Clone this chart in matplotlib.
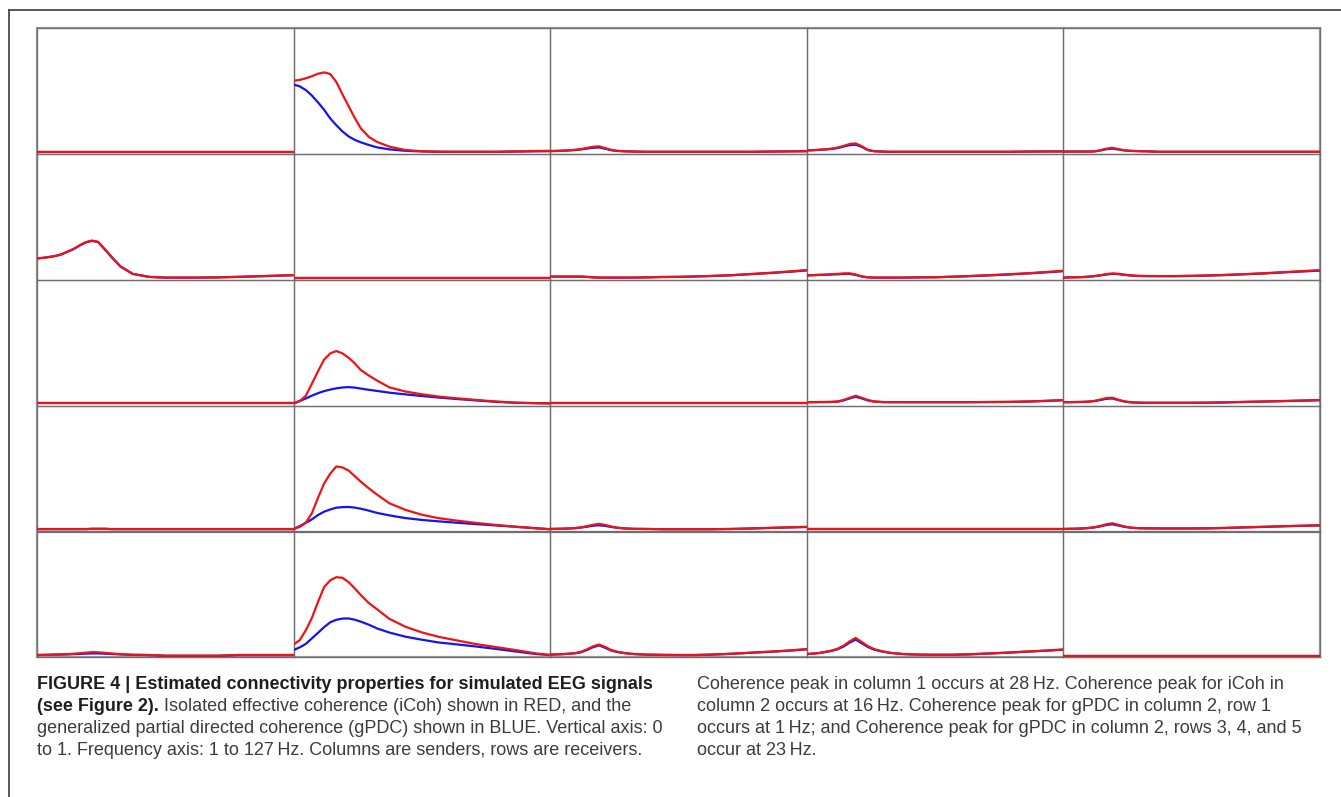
import matplotlib.pyplot as plt
from matplotlib.lines import Line2D
from matplotlib.patches import Rectangle

# frequency points (Hz) at which the curves were read
freq = [1, 4, 7, 10, 13, 16, 19, 22, 25, 28, 31, 34, 38, 42, 48, 56, 64, 72, 80, 90, 100, 110, 120, 127]
Z = [0] * 24

# iCoh (red) / gPDC (blue); each row list holds the 5 sender columns
icoh_row1 = [
    Z,
    [0.575, 0.582, 0.595, 0.612, 0.632, 0.643, 0.63, 0.565, 0.465, 0.37, 0.275, 0.19, 0.12, 0.08, 0.042, 0.014, 0.005, 0.002, 0, 0, 0, 0.004, 0.007, 0.008],
    [0.006, 0.007, 0.009, 0.012, 0.016, 0.022, 0.031, 0.041, 0.044, 0.03, 0.015, 0.008, 0.004, 0.002, 0, 0, 0, 0, 0, 0, 0, 0.002, 0.004, 0.005],
    [0.012, 0.013, 0.016, 0.02, 0.025, 0.034, 0.047, 0.063, 0.068, 0.045, 0.015, 0.005, 0.002, 0, 0, 0, 0, 0, 0, 0, 0, 0.002, 0.003, 0.003],
    [0.002, 0.002, 0.002, 0.002, 0.002, 0.003, 0.012, 0.025, 0.032, 0.022, 0.012, 0.008, 0.006, 0.004, 0, 0, 0, 0, 0, 0, 0, 0, 0, 0],
]
gpdc_row1 = [
    Z,
    [0.545, 0.53, 0.5, 0.455, 0.4, 0.34, 0.27, 0.215, 0.165, 0.125, 0.097, 0.077, 0.055, 0.036, 0.02, 0.008, 0.003, 0, 0, 0, 0, 0.002, 0.004, 0.005],
    [0.006, 0.007, 0.009, 0.011, 0.014, 0.019, 0.026, 0.033, 0.035, 0.025, 0.013, 0.007, 0.004, 0.002, 0, 0, 0, 0, 0, 0, 0, 0.002, 0.004, 0.005],
    [0.012, 0.013, 0.016, 0.019, 0.023, 0.03, 0.042, 0.054, 0.058, 0.04, 0.014, 0.005, 0.002, 0, 0, 0, 0, 0, 0, 0, 0, 0.002, 0.003, 0.003],
    [0.002, 0.002, 0.002, 0.002, 0.002, 0.003, 0.01, 0.021, 0.026, 0.019, 0.011, 0.007, 0.005, 0.004, 0, 0, 0, 0, 0, 0, 0, 0, 0, 0],
]

icoh_row2 = [
    [0.155, 0.16, 0.167, 0.175, 0.188, 0.21, 0.232, 0.262, 0.287, 0.30, 0.29, 0.235, 0.16, 0.09, 0.03, 0.006, 0, 0, 0, 0.002, 0.006, 0.011, 0.016, 0.02],
    Z,
    [0.008, 0.008, 0.008, 0.008, 0.008, 0.008, 0.006, 0.002, 0, 0, 0, 0, 0, 0, 0.002, 0.005, 0.006, 0.009, 0.013, 0.02, 0.03, 0.04, 0.052, 0.062],
    [0.018, 0.02, 0.022, 0.024, 0.027, 0.03, 0.034, 0.035, 0.025, 0.01, 0.002, 0, 0, 0, 0, 0.002, 0.003, 0.007, 0.012, 0.019, 0.027, 0.036, 0.047, 0.056],
    [0, 0.002, 0.003, 0.004, 0.007, 0.012, 0.019, 0.028, 0.034, 0.031, 0.024, 0.018, 0.014, 0.013, 0.012, 0.012, 0.014, 0.017, 0.021, 0.028, 0.036, 0.045, 0.054, 0.06],
]
gpdc_row2 = [
    [0.155, 0.16, 0.167, 0.175, 0.188, 0.21, 0.231, 0.26, 0.285, 0.297, 0.288, 0.234, 0.16, 0.09, 0.03, 0.006, 0, 0, 0, 0.002, 0.006, 0.011, 0.016, 0.02],
    Z,
    [0.008, 0.008, 0.008, 0.008, 0.008, 0.008, 0.006, 0.002, 0, 0, 0, 0, 0, 0, 0.002, 0.005, 0.006, 0.009, 0.013, 0.019, 0.028, 0.038, 0.049, 0.058],
    [0.018, 0.02, 0.022, 0.023, 0.025, 0.027, 0.029, 0.03, 0.022, 0.009, 0.002, 0, 0, 0, 0, 0.002, 0.003, 0.007, 0.011, 0.018, 0.025, 0.034, 0.044, 0.052],
    [0, 0.002, 0.003, 0.004, 0.007, 0.011, 0.017, 0.025, 0.03, 0.028, 0.022, 0.017, 0.013, 0.012, 0.012, 0.012, 0.014, 0.017, 0.021, 0.027, 0.034, 0.043, 0.051, 0.057],
]

icoh_row3 = [
    Z,
    [0, 0.018, 0.062, 0.16, 0.26, 0.355, 0.405, 0.424, 0.405, 0.37, 0.325, 0.27, 0.225, 0.185, 0.13, 0.096, 0.074, 0.056, 0.043, 0.029, 0.016, 0.005, 0.002, 0],
    Z,
    [0.01, 0.01, 0.011, 0.011, 0.012, 0.015, 0.027, 0.045, 0.062, 0.045, 0.027, 0.016, 0.011, 0.01, 0.01, 0.01, 0.01, 0.01, 0.01, 0.011, 0.012, 0.016, 0.022, 0.027],
    [0.01, 0.01, 0.011, 0.012, 0.014, 0.02, 0.03, 0.043, 0.046, 0.03, 0.016, 0.009, 0.006, 0.005, 0.005, 0.005, 0.005, 0.006, 0.008, 0.012, 0.016, 0.02, 0.024, 0.027],
]
gpdc_row3 = [
    Z,
    [0, 0.02, 0.04, 0.063, 0.083, 0.1, 0.112, 0.122, 0.129, 0.132, 0.128, 0.12, 0.11, 0.101, 0.087, 0.073, 0.06, 0.048, 0.037, 0.025, 0.013, 0.006, 0.002, 0],
    Z,
    [0.01, 0.01, 0.011, 0.011, 0.012, 0.014, 0.024, 0.04, 0.054, 0.04, 0.024, 0.015, 0.011, 0.01, 0.01, 0.01, 0.01, 0.01, 0.01, 0.011, 0.012, 0.015, 0.021, 0.026],
    [0.01, 0.01, 0.011, 0.012, 0.014, 0.018, 0.027, 0.037, 0.04, 0.027, 0.015, 0.009, 0.006, 0.005, 0.005, 0.005, 0.005, 0.006, 0.008, 0.012, 0.015, 0.019, 0.023, 0.026],
]

icoh_row4 = [
    Z,
    [0.003, 0.018, 0.052, 0.13, 0.255, 0.37, 0.45, 0.508, 0.50, 0.475, 0.43, 0.385, 0.33, 0.28, 0.21, 0.156, 0.117, 0.09, 0.072, 0.052, 0.035, 0.02, 0.007, 0],
    [0.002, 0.003, 0.004, 0.006, 0.009, 0.015, 0.024, 0.036, 0.043, 0.035, 0.022, 0.012, 0.006, 0.003, 0.002, 0, 0, 0, 0, 0.002, 0.006, 0.011, 0.016, 0.019],
    Z,
    [0.002, 0.003, 0.004, 0.006, 0.009, 0.016, 0.026, 0.04, 0.048, 0.035, 0.022, 0.013, 0.008, 0.007, 0.006, 0.006, 0.006, 0.007, 0.01, 0.015, 0.02, 0.025, 0.029, 0.032],
]
gpdc_row4 = [
    [0, 0, 0, 0, 0, 0, 0, 0, 0, 0.004, 0.004, 0.004, 0, 0, 0, 0, 0, 0, 0, 0, 0, 0, 0, 0],
    [0.002, 0.025, 0.052, 0.08, 0.115, 0.142, 0.16, 0.174, 0.179, 0.18, 0.175, 0.166, 0.15, 0.132, 0.112, 0.09, 0.075, 0.064, 0.054, 0.042, 0.031, 0.02, 0.008, 0],
    [0.002, 0.003, 0.004, 0.006, 0.008, 0.013, 0.02, 0.028, 0.032, 0.027, 0.018, 0.011, 0.006, 0.003, 0.002, 0, 0, 0, 0, 0.002, 0.006, 0.011, 0.015, 0.018],
    Z,
    [0.002, 0.003, 0.004, 0.006, 0.009, 0.014, 0.022, 0.034, 0.04, 0.03, 0.019, 0.012, 0.008, 0.007, 0.006, 0.006, 0.006, 0.007, 0.01, 0.015, 0.019, 0.024, 0.028, 0.031],
]

icoh_row5 = [
    [0, 0.001, 0.002, 0.004, 0.005, 0.007, 0.01, 0.014, 0.019, 0.023, 0.022, 0.018, 0.012, 0.007, 0.002, 0, -0.006, -0.006, -0.006, -0.006, 0, 0, 0, 0],
    [0.085, 0.12, 0.2, 0.3, 0.43, 0.55, 0.605, 0.63, 0.625, 0.59, 0.54, 0.485, 0.42, 0.37, 0.293, 0.228, 0.183, 0.148, 0.122, 0.09, 0.065, 0.04, 0.013, 0],
    [0.003, 0.005, 0.007, 0.01, 0.015, 0.025, 0.045, 0.07, 0.085, 0.065, 0.04, 0.026, 0.015, 0.008, 0.003, 0.001, 0, 0, 0.003, 0.01, 0.019, 0.028, 0.039, 0.048],
    [0.008, 0.011, 0.016, 0.025, 0.035, 0.05, 0.075, 0.11, 0.138, 0.105, 0.072, 0.048, 0.03, 0.018, 0.008, 0.003, 0.002, 0.002, 0.005, 0.012, 0.02, 0.029, 0.038, 0.045],
    [-0.008] * 24,
]
gpdc_row5 = [
    [0, 0.001, 0.002, 0.003, 0.004, 0.005, 0.007, 0.009, 0.011, 0.013, 0.013, 0.011, 0.008, 0.005, 0.001, 0, -0.006, -0.006, -0.006, -0.006, 0, 0, 0, 0],
    [0.04, 0.062, 0.09, 0.135, 0.18, 0.226, 0.265, 0.285, 0.295, 0.296, 0.286, 0.27, 0.245, 0.215, 0.182, 0.148, 0.124, 0.102, 0.088, 0.07, 0.05, 0.029, 0.008, 0],
    [0.003, 0.005, 0.007, 0.01, 0.014, 0.022, 0.04, 0.063, 0.078, 0.058, 0.036, 0.024, 0.014, 0.008, 0.003, 0.001, 0, 0, 0.003, 0.01, 0.019, 0.027, 0.037, 0.046],
    [0.008, 0.011, 0.016, 0.024, 0.033, 0.046, 0.068, 0.1, 0.125, 0.095, 0.065, 0.044, 0.028, 0.017, 0.008, 0.003, 0.002, 0.002, 0.005, 0.012, 0.019, 0.028, 0.036, 0.043],
    [-0.008] * 24,
]

icoh = [icoh_row1, icoh_row2, icoh_row3, icoh_row4, icoh_row5]
gpdc = [gpdc_row1, gpdc_row2, gpdc_row3, gpdc_row4, gpdc_row5]

caption_left = [
    "generalized partial directed coherence (gPDC) shown in BLUE. Vertical axis: 0",
    "to 1. Frequency axis: 1 to 127\u2009Hz. Columns are senders, rows are receivers.",
]
caption_right = [
    "Coherence peak in column 1 occurs at 28\u2009Hz. Coherence peak for iCoh in",
    "column 2 occurs at 16\u2009Hz. Coherence peak for gPDC in column 2, row 1",
    "occurs at 1\u2009Hz; and Coherence peak for gPDC in column 2, rows 3, 4, and 5",
    "occur at 23\u2009Hz.",
]

W, H = 1341, 797
fig = plt.figure(figsize=(W / 100, H / 100), dpi=100)
fig.patch.set_facecolor('white')

# grid geometry in pixels
x0, y0 = 37, 28.3
cw, rh = 256.6, 125.8

for r in range(5):
    for c in range(5):
        left = x0 + c * cw
        top = y0 + r * rh
        ax = fig.add_axes([left / W, 1 - (top + rh) / H, cw / W, rh / H])
        ax.set_facecolor('none')
        ax.plot(freq, gpdc[r][c], color='#1414ee', lw=1.6)
        ax.plot(freq, icoh[r][c], color='#ee1414', lw=1.6)
        ax.set_xlim(1, 127)
        ax.set_ylim(-0.0185, 1.0)
        ax.set_xticks([])
        ax.set_yticks([])
        for s in ax.spines.values():
            s.set_color('#6f6f6f')
            s.set_linewidth(0.9)
            s.set_zorder(0.5)

# outer border of the grid, kept under the curves
fig.add_artist(Rectangle((x0 / W, 1 - (y0 + 5 * rh) / H), 5 * cw / W, 5 * rh / H,
                         transform=fig.transFigure, fill=False,
                         edgecolor='#9a9a9a', lw=1.6, zorder=-1))

# page frame (top and left edges)
fig.add_artist(Line2D([8.6 / W, 1], [1 - 10 / H, 1 - 10 / H],
                      transform=fig.transFigure, color='#4a4a4a', lw=1.3))
fig.add_artist(Line2D([8.6 / W, 8.6 / W], [0, 1 - 10 / H],
                      transform=fig.transFigure, color='#4a4a4a', lw=1.3))

# caption
fam = ['Liberation Sans', 'DejaVu Sans']
fs = 13
base = [689, 711, 733, 755, 777]
bold_col = '#1e1e1e'
norm_col = '#3c3c3c'

fig.text(37 / W, 1 - base[0] / H,
         "FIGURE 4 | Estimated connectivity properties for simulated EEG signals",
         family=fam, fontsize=fs, weight='bold', color=bold_col, va='baseline')
t2 = fig.text(37 / W, 1 - base[1] / H, "(see Figure 2).",
              family=fam, fontsize=fs, weight='bold', color=bold_col, va='baseline')
fig.canvas.draw()
bb = t2.get_window_extent()
fig.text((bb.x1 + 5) / W, 1 - base[1] / H,
         "Isolated effective coherence (iCoh) shown in RED, and the",
         family=fam, fontsize=fs, color=norm_col, va='baseline')
for i, line in enumerate(caption_left):
    fig.text(37 / W, 1 - base[i + 2] / H, line,
             family=fam, fontsize=fs, color=norm_col, va='baseline')
for i, line in enumerate(caption_right):
    fig.text(697 / W, 1 - base[i] / H, line,
             family=fam, fontsize=fs, color=norm_col, va='baseline')

fig.savefig('out.png', dpi=100, facecolor='white')
